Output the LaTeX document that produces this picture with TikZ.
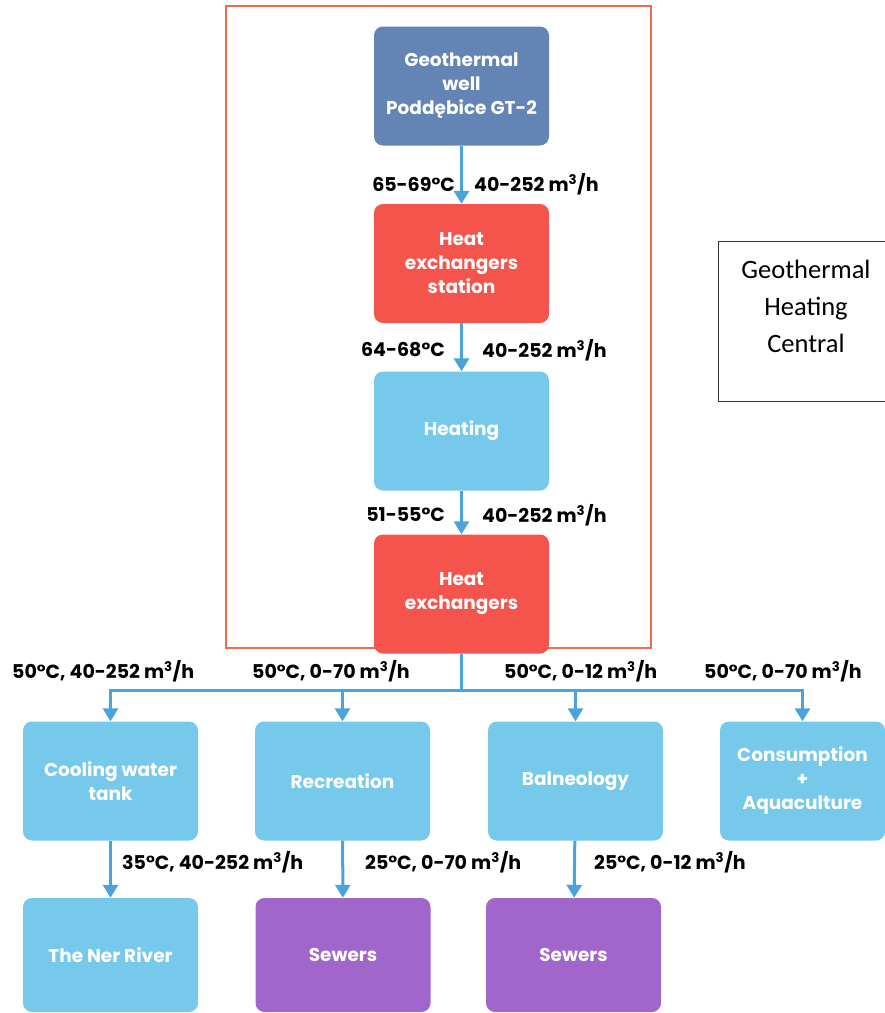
\documentclass[tikz,border=0pt]{standalone}
\usepackage{fontspec}
\setmainfont{Poppins}
\newfontfamily\calfont{Carlito}
\usetikzlibrary{arrows.meta}
\definecolor{wellblue}{HTML}{6384B5}
\definecolor{hxred}{HTML}{F4544C}
\definecolor{lightblue}{HTML}{77C9EB}
\definecolor{sewpurple}{HTML}{A066CC}
\definecolor{arrowblue}{HTML}{4AA3DC}
\definecolor{framered}{HTML}{F06A45}
\begin{document}
\begin{tikzpicture}[x=1pt,y=-1pt,
  box/.style={rounded corners=9pt, minimum width=175pt, minimum height=119pt, inner sep=0pt,
    text=white, align=center, font=\fontsize{18.5}{24}\selectfont\bfseries},
  flow/.style={draw=arrowblue, line width=3pt, -{Triangle[width=15pt,length=13pt]}},
  lab/.style={font=\fontsize{19}{20}\selectfont\bfseries, text=black, inner sep=0pt}
]
\useasboundingbox (0,0) rectangle (885,1013);
% frame
\node[draw=framered, line width=1.5pt, minimum width=425pt, minimum height=642pt, inner sep=0pt] (frame) at (438.5,327) {};
% main column
\node[box, fill=wellblue] (well) at (461.5,86) {Geothermal\\well\\Poddębice GT-2};
\node[box, fill=hxred] (hxs) at (461.5,263.5) {Heat\\exchangers\\station};
\node[box, fill=lightblue] (heat) at (461.5,431) {Heating};
\node[box, fill=hxred] (hx) at (461.5,594) {Heat\\exchangers};
% row 1
\node[box, fill=lightblue] (cool) at (110.5,781) {Cooling water\\tank};
\node[box, fill=lightblue] (rec) at (342.5,781) {Recreation};
\node[box, fill=lightblue] (bal) at (575.5,781) {Balneology};
\node[box, fill=lightblue, minimum width=165pt] (cons) at (802.5,781) {Consumption\\+\\Aquaculture};
% row 2
\node[box, fill=lightblue, minimum height=114pt] (ner) at (110.5,955) {The Ner River};
\node[box, fill=sewpurple, minimum height=114pt] (sew1) at (343,955) {Sewers};
\node[box, fill=sewpurple, minimum height=114pt] (sew2) at (573.5,955) {Sewers};
% side label
\node[inner sep=0pt, minimum width=174pt, minimum height=159pt, align=center,
  font=\calfont\fontsize{26.5}{37}\selectfont] (ghc) at (806,321.5) {Geothermal\\Heating\\Central\\[-6pt]};
\draw[line width=0.8pt, black!80] (ghc.north east) -- (ghc.north west) -- (ghc.south west) -- (ghc.south east);
% main arrows
\draw[flow] (well) -- (hxs);
\draw[flow] (hxs) -- (heat);
\draw[flow] (heat) -- (hx);
\coordinate (j) at (461.5,690);
\draw[draw=arrowblue, line width=3pt] (hx.south) -- (j);
\draw[flow] (j) -| (cool.north);
\draw[flow] (j) -| (rec.north);
\draw[flow] (j) -| (bal.north);
\draw[flow] (j) -| (cons.north);
\draw[flow] (cool) -- (ner);
\draw[flow] (rec) -- (sew1);
\draw[flow] (bal) -- (sew2);
% labels
\node[lab, anchor=east] (l1a) at (455,184) {65-69°C};
\node[lab, anchor=west] (l1b) at (474,184) {40-252 m\textsuperscript{3}/h};
\node[lab, anchor=east] (l2a) at (445,350) {64-68°C};
\node[lab, anchor=west] (l2b) at (482,350) {40-252 m\textsuperscript{3}/h};
\node[lab, anchor=east] (l3a) at (445,515) {51-55°C};
\node[lab, anchor=west] (l3b) at (482,515) {40-252 m\textsuperscript{3}/h};
\node[lab, anchor=west] (b1) at (12,671) {50°C, 40-252 m\textsuperscript{3}/h};
\node[lab, anchor=west] (b2) at (252,671) {50°C, 0-70 m\textsuperscript{3}/h};
\node[lab, anchor=west] (b3) at (504,671) {50°C, 0-12 m\textsuperscript{3}/h};
\node[lab, anchor=west] (b4) at (704,671) {50°C, 0-70 m\textsuperscript{3}/h};
\node[lab, anchor=west] (c1) at (122,862) {35°C, 40-252 m\textsuperscript{3}/h};
\node[lab, anchor=west] (c2) at (365,862) {25°C, 0-70 m\textsuperscript{3}/h};
\node[lab, anchor=west] (c3) at (594,862) {25°C, 0-12 m\textsuperscript{3}/h};
\end{tikzpicture}
\end{document}
